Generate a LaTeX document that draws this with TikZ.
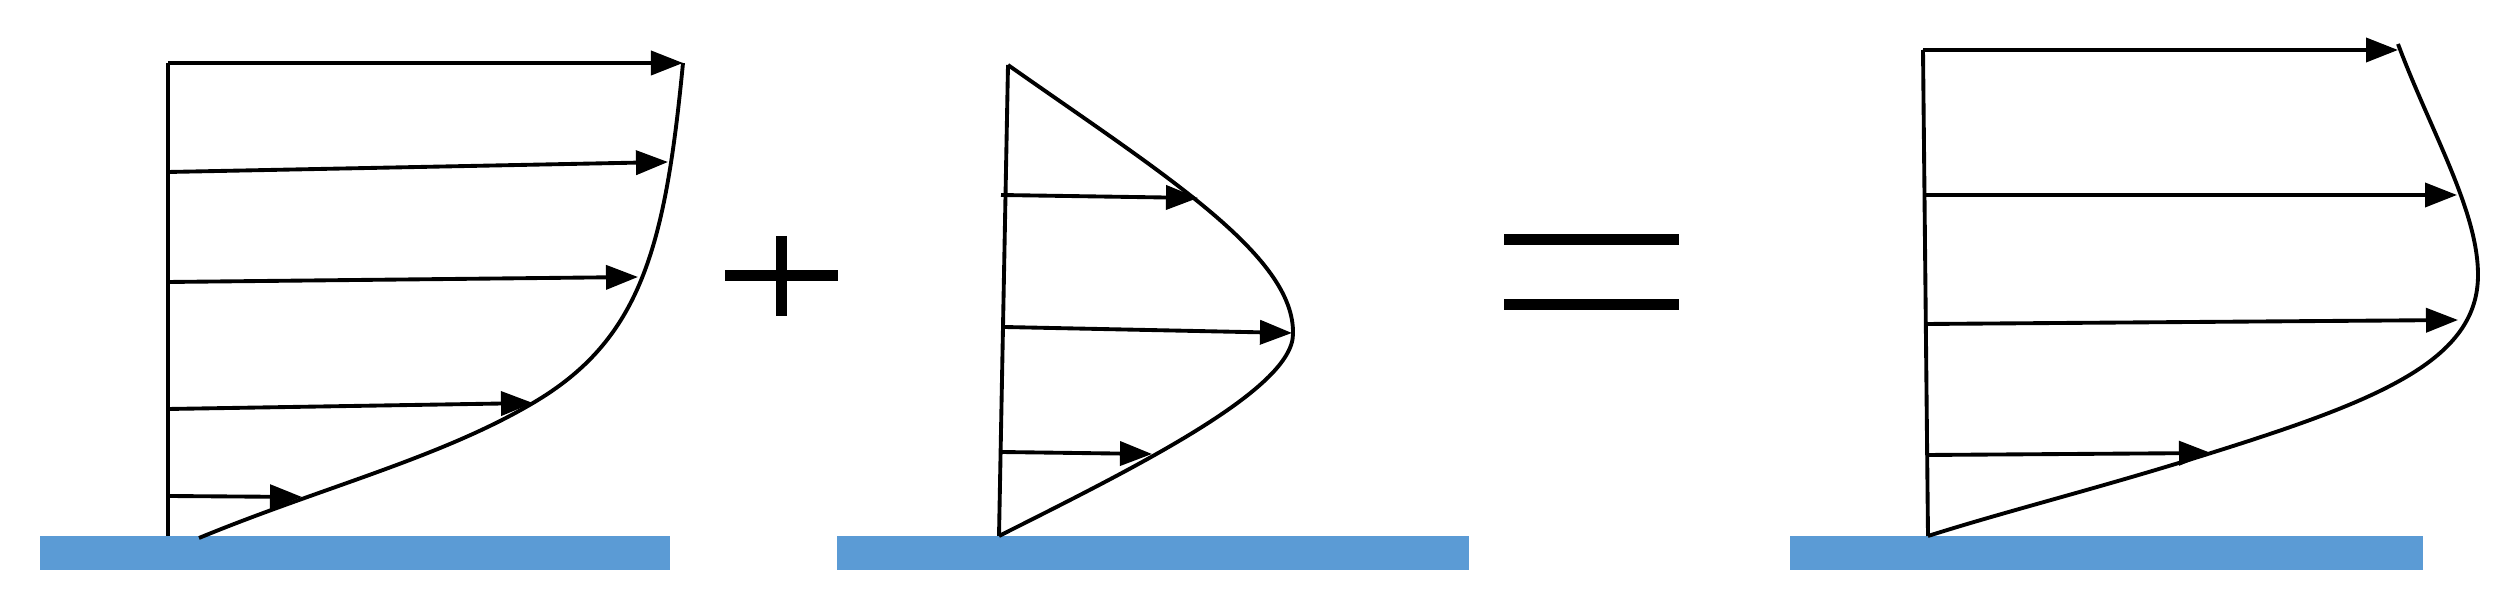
\documentclass[tikz,border=0pt]{standalone}
\usetikzlibrary{arrows.meta}
\definecolor{wallblue}{HTML}{5B9BD5}
\begin{document}
\begin{tikzpicture}[x=0.01cm,y=-0.01cm,
  vel/.style={line width=1.1pt,-{Triangle[length=0.32cm,width=0.24cm]}},
  prof/.style={line width=1.1pt,line join=round},
  wall/.style={fill=wallblue,draw=none},
  sym/.style={line width=0.11cm}]
\useasboundingbox (0,0) rectangle (2514,616);
% ---------- panel 1 ----------
\fill[wall] (40,536) rectangle (670,570);
\coordinate (p1top) at (168,63);
\coordinate (p1bot) at (168,536);
\draw[prof] (p1top) -- (p1bot);
\coordinate (p1s1) at (168,63);  \coordinate (p1e1) at (683,63);
\coordinate (p1s2) at (168,172); \coordinate (p1e2) at (668,162);
\coordinate (p1s3) at (168,282); \coordinate (p1e3) at (638,277);
\coordinate (p1s4) at (168,409); \coordinate (p1e4) at (533,403);
\coordinate (p1s5) at (168,496); \coordinate (p1e5) at (302,497);
\foreach \i in {1,...,5} \draw[vel] (p1s\i) -- (p1e\i);
\coordinate (p1c0) at (683,63);
\coordinate (p1c1) at (533,403);
\coordinate (p1c2) at (199,538);
\draw[prof] (p1c0) .. controls (665,250) and (640,340) .. (p1c1)
                   .. controls (440,458) and (320,488) .. (p1c2);
% plus
\coordinate (plusL) at (725,276); \coordinate (plusR) at (838,276);
\coordinate (plusT) at (781,236); \coordinate (plusB) at (781,316);
\draw[sym] (plusL) -- (plusR);
\draw[sym] (plusT) -- (plusB);
% ---------- panel 2 ----------
\fill[wall] (837,536) rectangle (1469,570);
\coordinate (p2top) at (1008,65);
\coordinate (p2bot) at (999,536);
\draw[prof] (p2top) -- (p2bot);
\coordinate (p2s1) at (1001,195); \coordinate (p2e1) at (1198,198);
\coordinate (p2s2) at (1004,327); \coordinate (p2e2) at (1292,333);
\coordinate (p2s3) at (1001,452); \coordinate (p2e3) at (1152,454);
\foreach \i in {1,2,3} \draw[vel] (p2s\i) -- (p2e\i);
\coordinate (p2c1) at (1293,334);
\draw[prof] (p2top) .. controls (1160,172) and (1295,255) .. (p2c1)
                    .. controls (1293,390) and (1130,470) .. (p2bot);
% equals
\coordinate (eqAL) at (1504,240); \coordinate (eqAR) at (1679,240);
\coordinate (eqBL) at (1504,305); \coordinate (eqBR) at (1679,305);
\draw[sym] (eqAL) -- (eqAR);
\draw[sym] (eqBL) -- (eqBR);
% ---------- panel 3 ----------
\fill[wall] (1790,536) rectangle (2423,570);
\coordinate (p3top) at (1923,50);
\coordinate (p3bot) at (1928,536);
\draw[prof] (p3top) -- (p3bot);
\coordinate (p3s1) at (1923,50);  \coordinate (p3e1) at (2398,50);
\coordinate (p3s2) at (1925,195); \coordinate (p3e2) at (2457,195);
\coordinate (p3s3) at (1926,324); \coordinate (p3e3) at (2458,320);
\coordinate (p3s4) at (1927,455); \coordinate (p3e4) at (2211,453);
\foreach \i in {1,...,4} \draw[vel] (p3s\i) -- (p3e\i);
\coordinate (p3c0) at (2398,44);
\coordinate (p3c1) at (2478,275);
\coordinate (p3c2) at (2211,453);
\draw[prof] (p3c0) .. controls (2430,130) and (2478,210) .. (p3c1)
                   .. controls (2478,360) and (2380,400) .. (p3c2)
                   .. controls (2100,488) and (2010,510) .. (p3bot);
\end{tikzpicture}
\end{document}
